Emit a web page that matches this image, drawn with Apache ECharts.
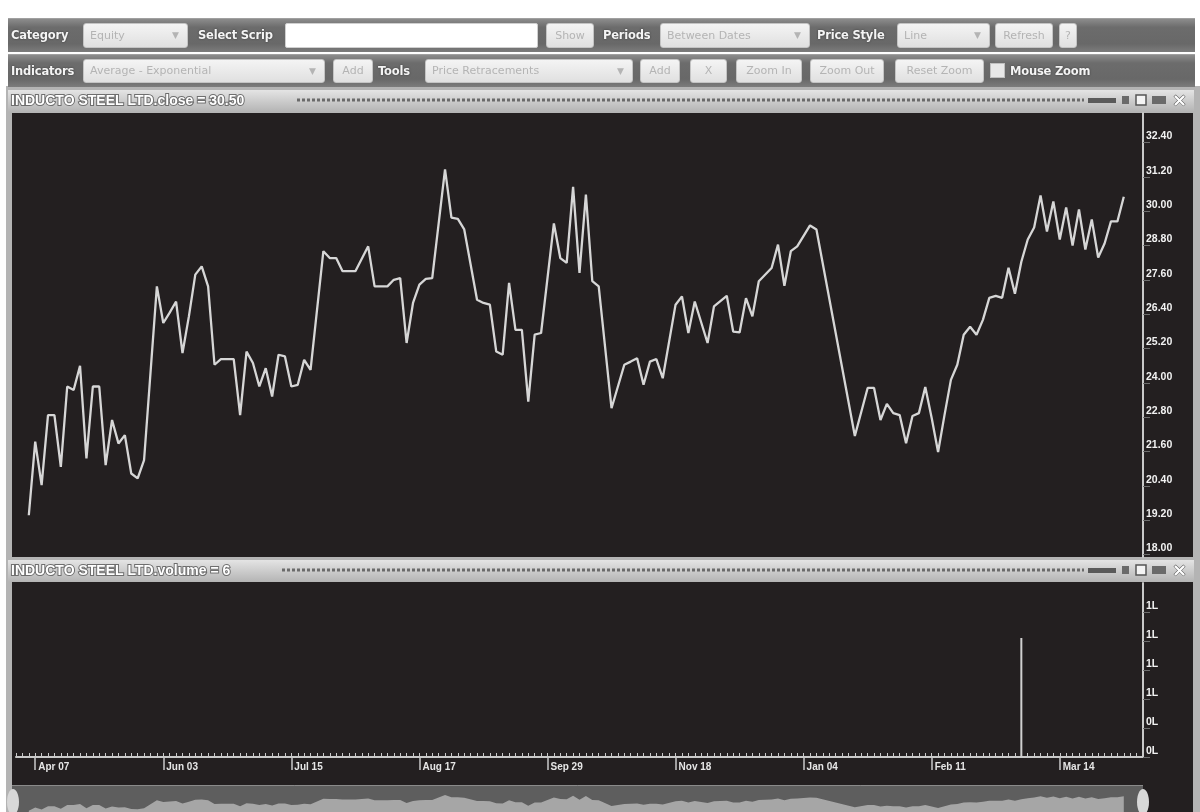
<!DOCTYPE html>
<html>
<head>
<meta charset="utf-8">
<script src="https://cdn.jsdelivr.net/npm/echarts@6/dist/echarts.min.js"></script>
<style>
  html, body { margin: 0; padding: 0; background: #ffffff; }
  #chart { position: absolute; left: 0; top: 0; width: 1200px; height: 812px; }
  #tb { position: absolute; left: 0; top: 0; width: 1200px; height: 88px; z-index: 5; font-family: "DejaVu Sans", sans-serif; }
  .band { position: absolute; left: 8px; width: 1187px; background: linear-gradient(#8c8c8c, #6c6c6c 25%, #686868 75%, #7c7c7c); border-top: 1px solid #a0a0a0; }
  .lbl { position: absolute; color: #f4f4f4; font-weight: bold; font-size: 11.5px; letter-spacing: -0.2px; text-shadow: 0 0 2px #333; white-space: nowrap; }
  .sel, .btn, .inp { position: absolute; box-sizing: border-box; border-radius: 3px; background: linear-gradient(#f4f4f4, #e0e0e0); border: 1px solid #c4c4c4; color: #b4b4b4; font-size: 11px; white-space: nowrap; }
  .sel { padding-left: 6px; }
  .sel .ar { position: absolute; right: 8px; top: 0; font-size: 9px; }
  .btn { text-align: center; }
  .inp { background: #ffffff; border: 1px solid #d0d0d0; border-radius: 2px; }
  .chk { position: absolute; width: 15px; height: 15px; background: #e8e8e8; border: 1px solid #c0c0c0; box-sizing: border-box; }
</style>
</head>
<body>
<div id="chart"></div>
<div id="tb">
  <div class="band" style="top:18px;height:33px;"></div>
  <div class="band" style="top:54px;height:32px;"></div>

  <div class="lbl" style="left:11px;top:28px;">Category</div>
  <div class="sel" style="left:83px;top:23px;width:105px;height:25px;line-height:23px;">Equity<span class="ar">▼</span></div>
  <div class="lbl" style="left:198px;top:28px;">Select Scrip</div>
  <div class="inp" style="left:285px;top:23px;width:253px;height:25px;"></div>
  <div class="btn" style="left:546px;top:23px;width:48px;height:25px;line-height:23px;">Show</div>
  <div class="lbl" style="left:603px;top:28px;">Periods</div>
  <div class="sel" style="left:660px;top:23px;width:150px;height:25px;line-height:23px;">Between Dates<span class="ar">▼</span></div>
  <div class="lbl" style="left:817px;top:28px;">Price Style</div>
  <div class="sel" style="left:897px;top:23px;width:93px;height:25px;line-height:23px;">Line<span class="ar">▼</span></div>
  <div class="btn" style="left:995px;top:23px;width:58px;height:25px;line-height:23px;">Refresh</div>
  <div class="btn" style="left:1059px;top:23px;width:18px;height:25px;line-height:23px;">?</div>

  <div class="lbl" style="left:11px;top:64px;">Indicators</div>
  <div class="sel" style="left:83px;top:59px;width:242px;height:24px;line-height:22px;">Average - Exponential<span class="ar">▼</span></div>
  <div class="btn" style="left:333px;top:59px;width:40px;height:24px;line-height:22px;">Add</div>
  <div class="lbl" style="left:378px;top:64px;">Tools</div>
  <div class="sel" style="left:425px;top:59px;width:208px;height:24px;line-height:22px;">Price Retracements<span class="ar">▼</span></div>
  <div class="btn" style="left:640px;top:59px;width:40px;height:24px;line-height:22px;">Add</div>
  <div class="btn" style="left:690px;top:59px;width:37px;height:24px;line-height:22px;">X</div>
  <div class="btn" style="left:736px;top:59px;width:66px;height:24px;line-height:22px;">Zoom In</div>
  <div class="btn" style="left:810px;top:59px;width:74px;height:24px;line-height:22px;">Zoom Out</div>
  <div class="btn" style="left:895px;top:59px;width:89px;height:24px;line-height:22px;">Reset Zoom</div>
  <div class="chk" style="left:990px;top:63px;"></div>
  <div class="lbl" style="left:1010px;top:64px;">Mouse Zoom</div>
</div>
<script>
// ---- data ----
// trading-day index along the time axis and close price at that index
const closeIdx = [2,3,4,5,6,7,8,9,10,11,12,13,14,15,16,17,18,19,20,
  22,23,24,25,26,27,28,29,30,31,32,34,35,36,37,38,39,40,41,42,43,44,45,46,
  48,49,50,51,53,55,56,58,59,60,61,62,63,64,65,67,68,69,70,
  72,73,74,75,76,77,78,79,80,81,82,84,85,86,87,88,89,90,91,93,
  95,96,97,98,99,100,101,103,104,105,106,108,109,111,112,113,114,115,116,
  118,119,120,121,122,124,125,131,133,134,135,136,137,138,139,140,141,142,143,
  144,145,146,147,148,149,150,151,152,153,154,155,156,157,158,159,160,161,162,
  163,164,165,166,167,168,169,170,171,172,173];
const closeVal = [19.37,21.94,20.42,22.87,22.87,21.06,23.87,23.75,24.59,21.36,23.87,23.87,21.12,22.70,21.88,22.17,20.83,20.66,21.30,
  27.37,26.09,26.45,26.84,25.04,26.32,27.78,28.07,27.37,24.63,24.83,24.83,22.87,25.09,24.69,23.87,24.51,23.52,24.98,24.92,23.87,23.93,24.80,24.45,
  28.60,28.36,28.36,27.90,27.90,28.77,27.37,27.37,27.60,27.66,25.39,26.79,27.43,27.63,27.66,31.46,29.77,29.73,29.36,
  26.90,26.79,26.73,25.09,24.98,27.49,25.85,25.85,23.34,25.68,25.74,29.57,28.36,28.19,30.85,27.84,30.58,27.55,27.37,23.11,
  24.63,24.74,24.86,23.93,24.74,24.83,24.16,26.73,27.02,25.74,26.84,25.39,26.67,27.04,25.79,25.76,26.96,26.32,27.55,
  28.01,28.83,27.39,28.60,28.77,29.50,29.36,22.14,23.82,23.82,22.70,23.26,22.94,22.87,21.89,22.84,22.94,23.85,22.77,
  21.58,22.87,24.10,24.63,25.68,25.96,25.68,26.20,26.97,27.04,26.97,28.02,27.11,28.23,29.01,29.43,30.55,29.29,30.34,
  29.01,30.13,28.80,30.06,28.66,29.71,28.38,28.87,29.64,29.64,30.50];
const volIdx = [157, 173];
const volVal = [102600, 6];
const xTickIdx = [3, 23, 43, 63, 83, 103, 123, 143, 163];
const xTickLabels = ['Apr 07', 'Jun 03', 'Jul 15', 'Aug 17', 'Sep 29', 'Nov 18', 'Jan 04', 'Feb 11', 'Mar 14'];
const priceTicks = [18.0, 19.2, 20.4, 21.6, 22.8, 24.0, 25.2, 26.4, 27.6, 28.8, 30.0, 31.2, 32.4];
const volTicks = [0, 25000, 50000, 75000, 100000, 125000];
const priceTitle = 'INDUCTO STEEL LTD.close = 30.50';
const volTitle = 'INDUCTO STEEL LTD.volume = 6';

// ---- build ----
const closeData = closeIdx.map((d, i) => [d, closeVal[i]]);
const volData = volIdx.map((d, i) => [d, volVal[i]]);
const minorTicks = [];
for (let i = 0; i <= 176; i++) minorTicks.push(i);

const chart = echarts.init(document.getElementById('chart'), null, { renderer: 'canvas' });
const axisCol = '#c9c9c9';

function titleBar(y, text, textW) {
  return [
    { type: 'rect', z: -5, shape: { x: 8, y: y, width: 1186, height: 22 },
      style: { fill: new echarts.graphic.LinearGradient(0, 0, 0, 1, [{ offset: 0, color: '#e4e4e4' }, { offset: 1, color: '#b4b4b4' }]) } },
    { type: 'line', z: -4, shape: { x1: 12 + textW, y1: y + 10, x2: 1084, y2: y + 10 },
      style: { stroke: '#6a6a6a', lineWidth: 3, lineDash: [3, 2] } },
    { type: 'text', z: 5, x: 11, y: y + 11,
      style: { text: text, fill: '#ffffff', font: 'bold 14px "Liberation Sans"', textVerticalAlign: 'middle', stroke: '#6e6e6e', lineWidth: 2 } },
    { type: 'rect', z: 5, shape: { x: 1088, y: y + 8, width: 28, height: 5 }, style: { fill: '#5a5a5a' } },
    { type: 'rect', z: 5, shape: { x: 1122, y: y + 6, width: 7, height: 8 }, style: { fill: '#6a6a6a' } },
    { type: 'rect', z: 5, shape: { x: 1136, y: y + 5, width: 10, height: 10 }, style: { fill: '#f4f4f4', stroke: '#555', lineWidth: 1.5 } },
    { type: 'rect', z: 5, shape: { x: 1152, y: y + 6, width: 14, height: 8 }, style: { fill: '#6a6a6a' } },
    { type: 'text', z: 5, x: 1172, y: y + 11,
      style: { text: '×', fill: '#ffffff', font: 'bold 18px "DejaVu Sans"', textVerticalAlign: 'middle', stroke: '#555', lineWidth: 1 } }
  ];
}

const graphics = [
  { type: 'rect', z: -10, shape: { x: 6, y: 86, width: 1194, height: 726 }, style: { fill: '#b4b4b4' } },
  { type: 'rect', z: -9, shape: { x: 12, y: 113, width: 1181, height: 444 }, style: { fill: '#231f20' } },
  { type: 'rect', z: -9, shape: { x: 12, y: 582, width: 1181, height: 230 }, style: { fill: '#231f20' } },
  { type: 'rect', z: -8, shape: { x: 12, y: 785, width: 1131, height: 27 }, style: { fill: '#5e5e5e' } },
  { type: 'line', z: -7, shape: { x1: 12, y1: 785.5, x2: 1143, y2: 785.5 }, style: { stroke: '#8a8a8a', lineWidth: 1 } },
  { type: 'ellipse', z: 10, shape: { cx: 13, cy: 802, rx: 6, ry: 13 }, style: { fill: '#d8d8d8' } },
  { type: 'ellipse', z: 10, shape: { cx: 1143, cy: 802, rx: 6, ry: 13 }, style: { fill: '#d8d8d8' } }
].concat(titleBar(90, priceTitle, 285), titleBar(560, volTitle, 270));

const option = {
  backgroundColor: '#ffffff',
  animation: false,
  graphic: { elements: graphics },
  grid: [
    { left: 16, right: 57, top: 113, height: 444 },
    { left: 16, right: 57, top: 583, height: 174 },
    { left: 16, right: 57, top: 785, height: 27 }
  ],
  xAxis: [
    { gridIndex: 0, type: 'value', min: 0, max: 176, show: false },
    { gridIndex: 1, type: 'value', min: 0, max: 176,
      axisLine: { show: true, onZero: false, lineStyle: { color: axisCol, width: 2 } },
      axisTick: { show: true, customValues: xTickIdx, length: 13, lineStyle: { color: axisCol, width: 1.5 } },
      axisLabel: { customValues: xTickIdx, formatter: v => xTickLabels[xTickIdx.indexOf(v)] || '',
        align: 'left', margin: 5, padding: [0, 0, 0, 3], color: '#e6e6e6',
        fontFamily: 'Liberation Sans', fontWeight: 'bold', fontSize: 10 },
      splitLine: { show: false } },
    { gridIndex: 1, type: 'value', min: 0, max: 176, position: 'bottom',
      axisLine: { show: false, onZero: false },
      axisTick: { show: true, customValues: minorTicks, inside: true, length: 4, lineStyle: { color: axisCol, width: 1 } },
      axisLabel: { show: false }, splitLine: { show: false } },
    { gridIndex: 2, type: 'value', min: 0, max: 176, show: false }
  ],
  yAxis: [
    { gridIndex: 0, type: 'value', position: 'right', min: 17.91, max: 33.43,
      axisLine: { show: true, onZero: false, lineStyle: { color: axisCol, width: 2 } },
      axisTick: { show: true, customValues: priceTicks, length: 7, lineStyle: { color: '#6d6d6d', width: 1 } },
      axisLabel: { customValues: priceTicks, formatter: v => v.toFixed(2), color: '#f2f2f2',
        fontFamily: 'Liberation Sans', fontWeight: 'bold', fontSize: 10.5, verticalAlign: 'bottom', margin: 3, lineHeight: 12 },
      splitLine: { show: false } },
    { gridIndex: 1, type: 'value', position: 'right', min: 0, max: 150000,
      axisLine: { show: true, onZero: false, lineStyle: { color: axisCol, width: 2 } },
      axisTick: { show: true, customValues: volTicks, length: 7, lineStyle: { color: '#6d6d6d', width: 1 } },
      axisLabel: { customValues: volTicks, formatter: v => Math.round(v / 100000) + 'L', color: '#f2f2f2',
        fontFamily: 'Liberation Sans', fontWeight: 'bold', fontSize: 10.5, verticalAlign: 'bottom', margin: 3, lineHeight: 12 },
      splitLine: { show: false } },
    { gridIndex: 2, type: 'value', min: 18.5, max: 39, show: false }
  ],
  series: [
    { type: 'line', xAxisIndex: 0, yAxisIndex: 0, data: closeData, symbol: 'none',
      lineStyle: { color: '#d6d6d6', width: 2.3 }, z: 3 },
    { type: 'bar', xAxisIndex: 1, yAxisIndex: 1, data: volData, barWidth: 2,
      itemStyle: { color: '#d0d0d0' } },
    { type: 'line', xAxisIndex: 3, yAxisIndex: 2, data: closeData, symbol: 'none',
      lineStyle: { width: 0 }, areaStyle: { color: '#a6a6a6', opacity: 1 } }
  ]
};
chart.setOption(option);
</script>
</body>
</html>
